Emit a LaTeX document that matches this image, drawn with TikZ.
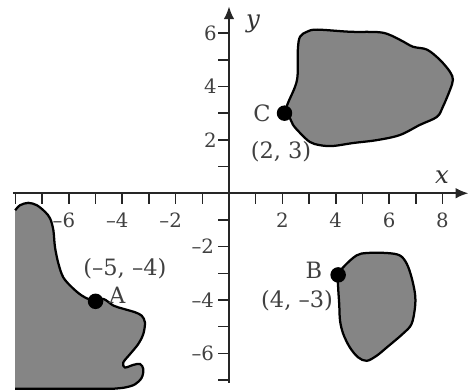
\documentclass[tikz,border=0pt]{standalone}
\usepackage{fontspec}
\setmainfont{DejaVu Serif}
\usetikzlibrary{arrows.meta}
\begin{document}
\begin{tikzpicture}[x=0.5cm,y=0.5cm,
  ax/.style={line width=1pt, draw=black!85},
  tk/.style={line width=0.8pt, draw=black!85},
  blob/.style={fill=black!48, draw=black, line width=1.2pt},
  blobfill/.style={fill=black!48},
  blobline/.style={draw=black, line width=1.2pt},
  ticklbl/.style={font=\fontsize{10.5}{12}\selectfont, text=black!75, inner sep=0pt},
  lbl/.style={font=\fontsize{12}{14}\selectfont, text=black!75, inner sep=0pt},
  axlbl/.style={font=\fontsize{13}{15}\selectfont\itshape, text=black!80, inner sep=0pt},
  pt/.style={circle, fill=black, inner sep=0pt, minimum size=0.29cm}]
\useasboundingbox (-8.58,-7.42) rectangle (9.03,7.24);

% region C (upper right)
\draw[blob] plot[smooth cycle, tension=0.55] coordinates {
  (2.10,3.01) (2.21,3.38) (2.55,4.25) (2.58,5.38) (2.66,5.86) (2.92,6.05)
  (3.30,6.13) (4.53,6.05) (5.73,6.02) (6.40,5.75) (6.89,5.49) (7.42,5.38)
  (7.90,5.00) (8.28,4.55) (8.39,4.25) (8.28,3.87) (8.01,3.23) (7.79,2.86)
  (7.15,2.56) (6.40,2.18) (5.54,1.99) (4.64,1.88) (3.90,1.77) (3.41,1.80)
  (3.03,1.92) (2.66,2.26) (2.40,2.56) (2.28,2.82)};

% region B (lower right)
\draw[blob] plot[smooth cycle, tension=0.55] coordinates {
  (4.09,-3.06) (4.34,-2.71) (4.78,-2.33) (5.16,-2.24) (5.91,-2.24) (6.40,-2.33)
  (6.66,-2.64) (6.84,-3.15) (6.97,-3.77) (6.97,-4.27) (6.84,-4.90) (6.52,-5.26)
  (5.91,-5.78) (5.53,-6.09) (5.16,-6.28) (4.84,-6.15) (4.53,-5.78) (4.28,-5.27)
  (4.16,-4.77) (4.13,-4.15) (4.09,-3.53)};

% region A (lower left), clipped at left and bottom
\fill[blobfill] plot[smooth, tension=0.55] coordinates {
  (-8.01,-0.64) (-7.83,-0.45) (-7.52,-0.36) (-7.20,-0.45) (-6.89,-0.70)
  (-6.70,-0.95) (-6.58,-1.39) (-6.52,-2.02) (-6.39,-2.64) (-6.21,-3.15)
  (-5.89,-3.52) (-5.52,-3.83) (-5.14,-4.00) (-4.71,-3.96) (-4.33,-4.21)
  (-3.96,-4.33) (-3.52,-4.46) (-3.27,-4.59) (-3.15,-4.84) (-3.21,-5.27)
  (-3.40,-5.65) (-3.71,-6.03) (-3.96,-6.34) (-3.90,-6.53) (-3.58,-6.43)
  (-3.33,-6.40) (-3.21,-6.59) (-3.27,-6.91) (-3.52,-7.16) (-3.90,-7.28)
  (-4.40,-7.33)} -- (-8.01,-7.33) -- cycle;
\draw[blobline] plot[smooth, tension=0.55] coordinates {
  (-8.01,-0.64) (-7.83,-0.45) (-7.52,-0.36) (-7.20,-0.45) (-6.89,-0.70)
  (-6.70,-0.95) (-6.58,-1.39) (-6.52,-2.02) (-6.39,-2.64) (-6.21,-3.15)
  (-5.89,-3.52) (-5.52,-3.83) (-5.14,-4.00) (-4.71,-3.96) (-4.33,-4.21)
  (-3.96,-4.33) (-3.52,-4.46) (-3.27,-4.59) (-3.15,-4.84) (-3.21,-5.27)
  (-3.40,-5.65) (-3.71,-6.03) (-3.96,-6.34) (-3.90,-6.53) (-3.58,-6.43)
  (-3.33,-6.40) (-3.21,-6.59) (-3.27,-6.91) (-3.52,-7.16) (-3.90,-7.28)
  (-4.40,-7.33)} -- (-8.01,-7.33);

% axes
\coordinate (xs) at (-8.1,0);
\coordinate (xe) at (8.97,0);
\coordinate (ys) at (0,-7.1);
\coordinate (ye) at (0,7.0);
\draw[ax,-{Latex[length=2.4mm,width=2mm]}] (xs) -- (xe);
\draw[ax,-{Latex[length=2.4mm,width=2mm]}] (ys) -- (ye);
\foreach \i in {-8,...,-1,1,2,...,8} \draw[tk] (\i,0) -- (\i,-0.4);
\foreach \j in {-7,...,-1,1,2,...,6} \draw[tk] (0,\j) -- (-0.42,\j);

\node[axlbl] (xl) at (7.98,0.62) {x};
\node[axlbl] (yl) at (0.9,6.35) {y};

\foreach \i in {-6,-4,-2} \node[ticklbl] (tx\i) at (\i,-1.02) {\llap{–}\the\numexpr-\i\relax};
\foreach \i in {2,4,6,8} \node[ticklbl] (tx\i) at (\i,-1.02) {\i};
\foreach \j in {2,4,6} \node[ticklbl, anchor=east] (ty\j) at (-0.45,\j) {\j};
\foreach \j in {-2,-4,-6} \node[ticklbl, anchor=east] (ty\j) at (-0.55,\j) {–\the\numexpr-\j\relax};

% points
\node[pt] (C) at (2.08,3.0) {};
\node[pt] (B) at (4.09,-3.06) {};
\node[pt] (A) at (-5.0,-4.05) {};

\node[lbl] (Cl) at (1.24,3.0) {C};
\node[lbl] (Cc) at (1.95,1.54) {(2, 3)};
\node[lbl] (Bl) at (3.18,-2.89) {B};
\node[lbl] (Bc) at (2.55,-4.02) {(4, –3)};
\node[lbl] (Al) at (-4.19,-3.83) {A};
\node[lbl] (Ac) at (-3.90,-2.82) {(–5, –4)};
\end{tikzpicture}
\end{document}
